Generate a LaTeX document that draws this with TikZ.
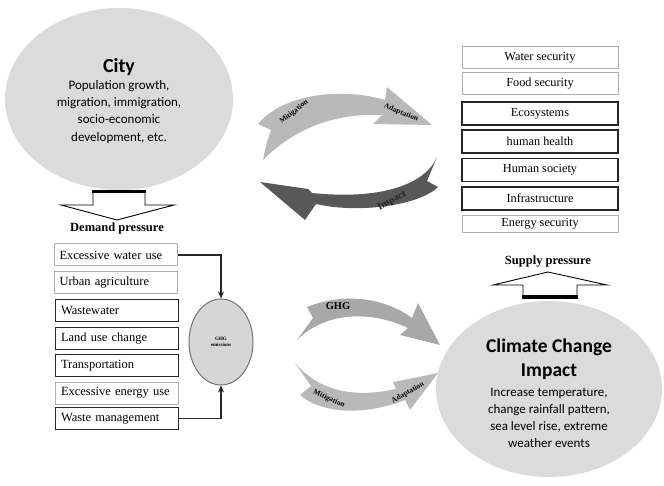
\documentclass[tikz,border=0pt]{standalone}
\usepackage{fontspec}
\setmainfont{Liberation Serif}
\newfontfamily\calib{Carlito}
\usetikzlibrary{shapes.geometric,arrows.meta}
\definecolor{bubble}{RGB}{219,219,219}
\definecolor{ghgfill}{RGB}{214,214,214}
\definecolor{lightarr}{RGB}{185,185,185}
\definecolor{midarr}{RGB}{168,168,168}
\definecolor{darkarr}{RGB}{88,88,88}
\definecolor{softline}{RGB}{175,175,175}
\tikzset{
  lbox/.style={draw=#1, rectangle, minimum width=123pt, minimum height=22pt, text width=112pt, align=left, inner sep=0pt, font=\fontsize{12.5}{14}\selectfont},
  rbox/.style={draw=#1, rectangle, minimum width=156pt, minimum height=22pt, align=center, inner sep=0pt, font=\fontsize{12.3}{14}\selectfont},
  soft/.style={draw=softline, line width=1pt},
  hard/.style={draw=black!85, line width=1.4pt},
  arrlab/.style={font=\bfseries\fontsize{7.5}{8}\selectfont, inner sep=0pt},
  conn/.style={line width=1.2pt, black!85},
}
\begin{document}
\begin{tikzpicture}[x=1pt,y=-1pt]
\useasboundingbox (0,0) rectangle (664,486);

% demand pressure hollow arrow
\draw[fill=white, line width=0.9pt] (93,190) -- (93,205) -- (61,205) -- (117,220) -- (174,205) -- (145,205) -- (145,190);
\draw[line width=3pt] (92,191.5) -- (146,191.5);

% City
\node[ellipse, fill=bubble, minimum width=228pt, minimum height=182pt] (city) at (119,99) {};
\node[align=center, font=\calib\fontsize{13}{17.3}\selectfont] (citytext) at (119,101)
  {{\bfseries\fontsize{20}{22}\selectfont City}\\[-1pt]Population growth,\\migration, immigration,\\socio-economic\\development, etc.};

\node[font=\bfseries\fontsize{12.5}{14}\selectfont] (demand) at (117,228) {Demand pressure};

% left boxes
\node[lbox=softline, soft] (exw) at (115.5,255) {Excessive water use};
\node[lbox=softline, soft] (urb) at (115.5,283) {Urban agriculture};
\node[lbox=black, hard] (wwt) at (117,310.5) {Wastewater};
\node[lbox=black, hard] (luc) at (117,338.5) {Land use change};
\node[lbox=black, hard] (trn) at (117,365.5) {Transportation};
\node[lbox=softline, soft] (exe) at (117,393) {Excessive energy use};
\node[lbox=black, hard] (wmg) at (117,418.5) {Waste management};

% GHG emissions ellipse
\node[ellipse, draw=black!55, line width=1pt, fill=ghgfill, minimum width=64pt, minimum height=86pt, align=center, inner sep=0pt, font=\bfseries\fontsize{5}{6}\selectfont] (ghg) at (221,342) {GHG\\emissions};

\draw[conn, -{Stealth[length=7pt,width=6pt]}] (exw.east) -| (ghg.north);
\draw[conn, -{Stealth[length=7pt,width=6pt]}] (wmg.east) -| (ghg.south);

% right boxes
\node[rbox=softline, soft] (wat) at (540,58) {Water security};
\node[rbox=softline, soft] (foo) at (540,84) {Food security};
\node[rbox=black, hard, minimum height=23pt] (eco) at (540,113.5) {Ecosystems};
\node[rbox=black, hard, minimum height=23pt] (hhe) at (540,141.5) {human health};
\node[rbox=black, hard, minimum height=23pt] (hso) at (540,170) {Human society};
\node[rbox=black, hard, minimum height=23pt] (inf) at (540,198.5) {Infrastructure};
\node[rbox=softline, soft, minimum height=17pt] (ene) at (540,224) {Energy security};

% supply pressure
\node[font=\bfseries\fontsize{12.5}{14}\selectfont] (supply) at (548,262) {Supply pressure};
\draw[fill=white, line width=0.9pt] (523,299) -- (523,285) -- (493,285) -- (548,272) -- (607,285) -- (577,285) -- (577,299);
\draw[line width=3.5pt] (522,297) -- (578,297);

% Climate change
\node[ellipse, fill=bubble, minimum width=226pt, minimum height=176pt] (cc) at (549,389) {};
\node[align=center, font=\calib\bfseries\fontsize{19.5}{24}\selectfont] (cctitle) at (549,359) {Climate Change\\Impact};
\node[align=center, font=\calib\fontsize{13}{17}\selectfont] (ccbody) at (549,418)
  {Increase temperature,\\change rainfall pattern,\\sea level rise, extreme\\weather events};

% top light arrow (Mitigation / Adaptation)
\fill[lightarr] (258,124) .. controls (285,92) and (345,88) .. (385,100) -- (387,87) -- (432,125) -- (373,124) -- (382,115)
  .. controls (335,113) and (295,128) .. (263,160) .. controls (266,145) .. (271,130) -- cycle;
\node[arrlab, rotate=38] (mit1) at (294,112) {Mitigation};
\node[arrlab, rotate=-22] (ada1) at (401,113) {Adaptation};

% dark impact arrow
\fill[darkarr] (437,157) .. controls (425,185) and (380,200) .. (312,193) -- (308,189) -- (260,182) -- (305,220) -- (316,204)
  .. controls (360,214) and (420,205) .. (438,187) -- (427,181) -- cycle;
\node[font=\bfseries\fontsize{10}{11}\selectfont, rotate=28, inner sep=0pt, text=black!85] (imp) at (392,201) {Impact};

% GHG arrow
\fill[midarr] (307,307) .. controls (345,292) and (385,298) .. (412,318) -- (418,303) -- (440,345) -- (400,335) -- (408,328)
  .. controls (370,310) and (325,312) .. (297,340) -- (313,318) -- cycle;
\node[font=\bfseries\fontsize{10.5}{11}\selectfont, inner sep=0pt] (ghglab) at (338,306) {GHG};

% bottom light arrow (Mitigation / Adaptation)
\fill[lightarr] (295,363) .. controls (320,392) and (355,398) .. (396,389) -- (393,382) -- (438,373) -- (410,410) -- (405,400)
  .. controls (370,414) and (325,416) .. (300,395) -- (311,386) -- cycle;
\node[arrlab, rotate=-25] (mit2) at (329,399) {Mitigation};
\node[arrlab, rotate=30] (ada2) at (408,393) {Adaptation};
\end{tikzpicture}
\end{document}
